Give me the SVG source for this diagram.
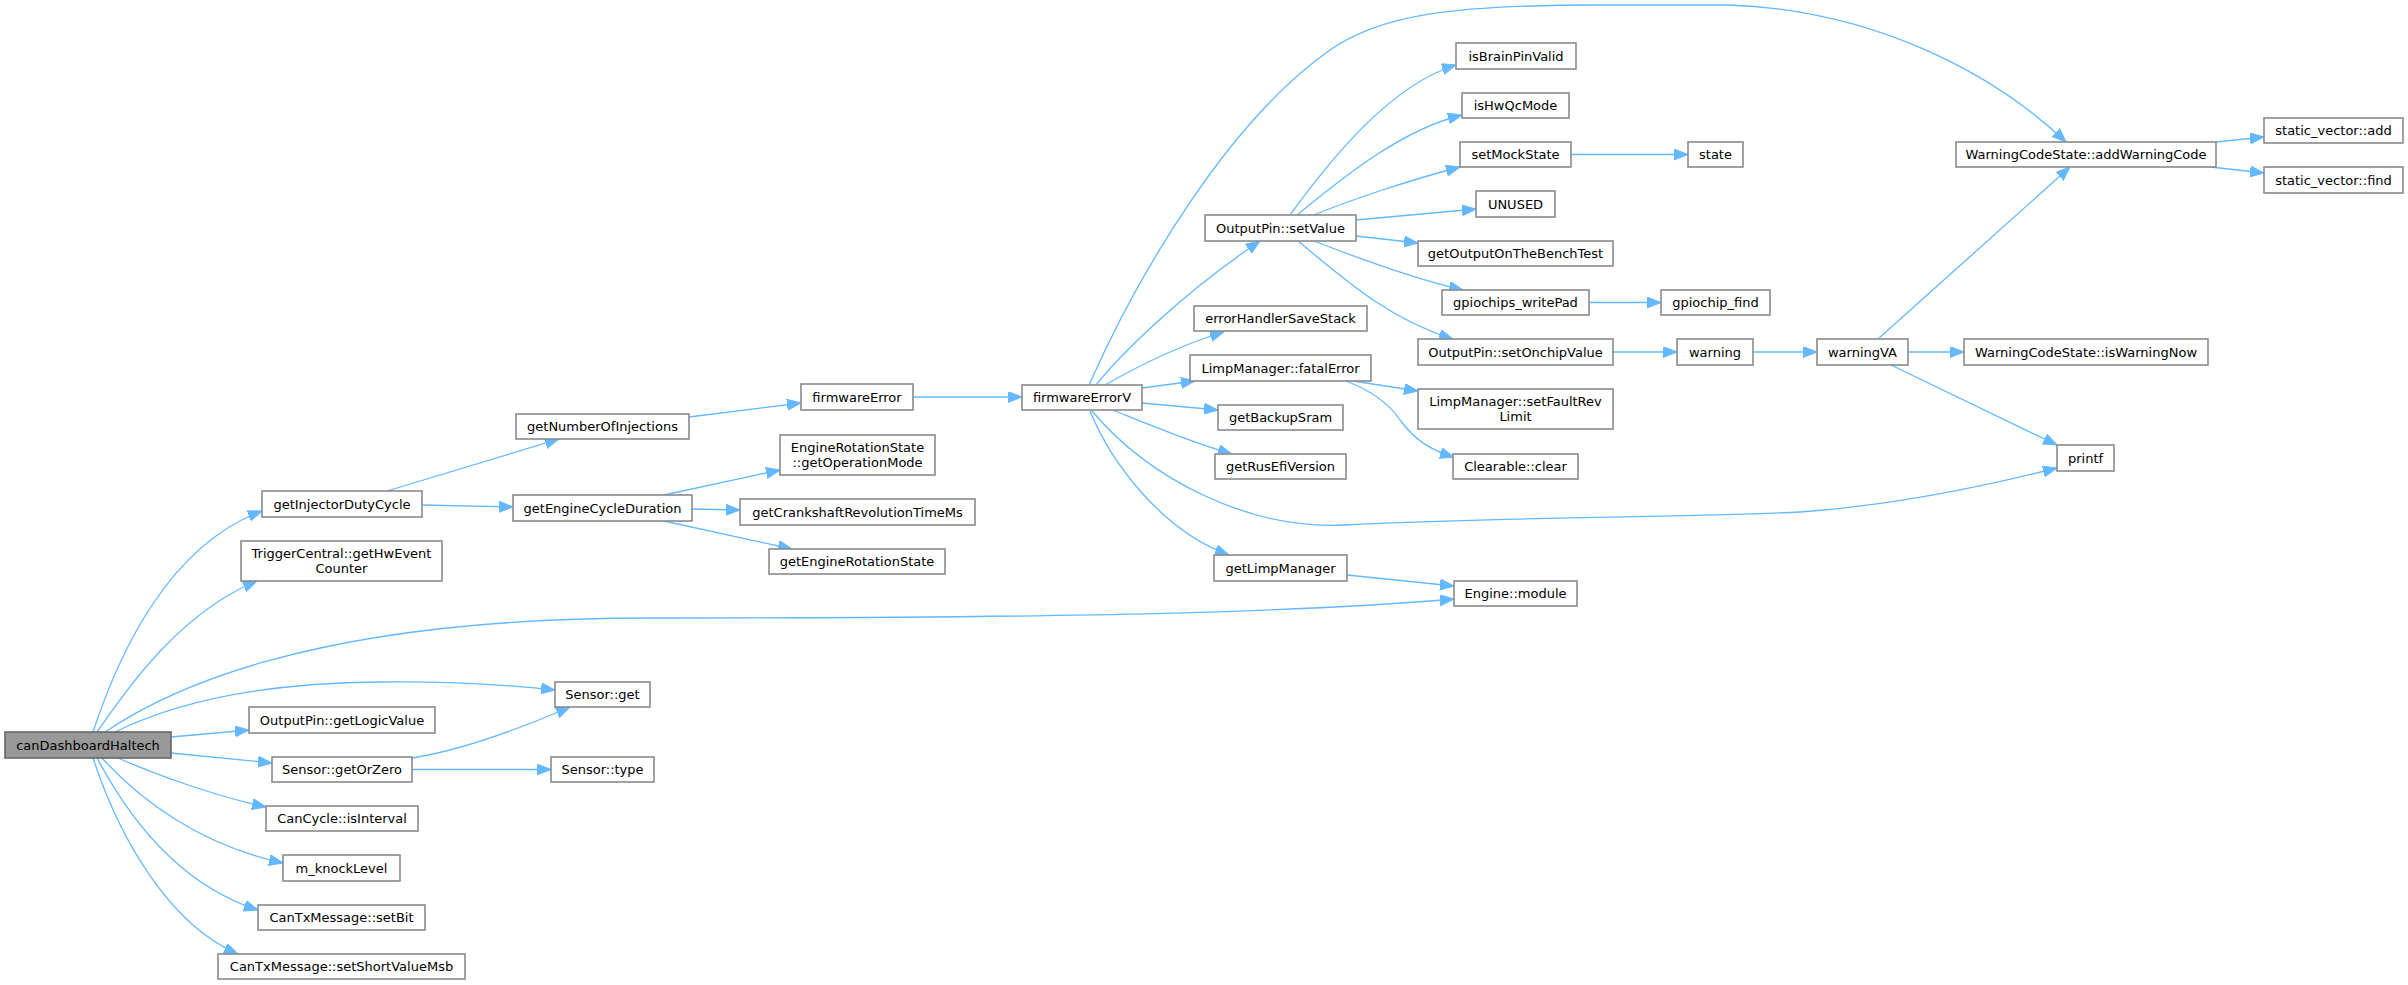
<svg xmlns="http://www.w3.org/2000/svg" width="2408" height="985" viewBox="0 0 2408 985">
<defs>
<style>
.n rect{fill:#ffffff;stroke:#8a8a8a;stroke-width:1.6}
.root rect{fill:#999999;stroke:#666666;stroke-width:1.6}
text{font-family:"DejaVu Sans","Liberation Sans",sans-serif;font-size:13px;fill:#000000;text-anchor:middle}
#edges path{fill:none;stroke:#63b8ff;stroke-width:1.3;marker-end:url(#arr)}
</style>
<marker id="arr" markerUnits="userSpaceOnUse" markerWidth="16" markerHeight="12" refX="14" refY="5.5" orient="auto">
<path d="M0,0 L14,5.5 L0,11 z" fill="#63b8ff" stroke="#63b8ff" stroke-width="1"/>
</marker>
</defs>
<rect x="0" y="0" width="2408" height="985" fill="#ffffff"/>
<g id="edges">
<path d="M93,732 C120,650 170,545 262,511"/>
<path d="M97,732 C130,685 180,613 257,581"/>
<path d="M105,732 C160,695 300,618 650,618 C1100,618 1300,612 1454,599"/>
<path d="M115,732 C170,705 250,683 380,682 C460,681 510,685 555,690"/>
<path d="M171,737 L249,730"/>
<path d="M171,753 L272,763"/>
<path d="M118,758 C150,772 210,795 266,807"/>
<path d="M102,758 C140,800 200,845 283,863"/>
<path d="M97,758 C130,820 180,885 258,910"/>
<path d="M93,758 C120,840 170,925 238,954"/>
<path d="M412,758 C450,752 505,735 570,707"/>
<path d="M412,769.5 L551,769.5"/>
<path d="M387,491 L559,439"/>
<path d="M422,505 L513,507"/>
<path d="M689,417 L801,403"/>
<path d="M664,495 L780,470"/>
<path d="M692,509 L740,510"/>
<path d="M664,521 L792,549"/>
<path d="M913,397 L1022,397"/>
<path d="M1096,385 C1120,355 1180,295 1260,241"/>
<path d="M1105,385 C1140,365 1180,345 1224,332"/>
<path d="M1142,388 L1195,381"/>
<path d="M1142,403 L1218,410"/>
<path d="M1113,410 C1150,425 1190,442 1232,454"/>
<path d="M1092,411 C1150,480 1250,530 1345,525 C1500,517 1700,517 1800,512 C1900,505 1990,485 2057,468"/>
<path d="M1090,411 C1110,460 1160,530 1229,555"/>
<path d="M1347,575 L1454,586"/>
<path d="M1089,385 C1140,270 1230,120 1330,50 C1380,15 1450,5 1600,5 L1729,5 C1870,10 1990,70 2066,142"/>
<path d="M1290,215 C1330,160 1390,85 1456,65"/>
<path d="M1297,215 C1340,180 1400,130 1462,115"/>
<path d="M1314,215 C1350,200 1410,180 1460,167"/>
<path d="M1356,220 L1476,209"/>
<path d="M1356,236 L1418,243"/>
<path d="M1314,241 C1350,255 1410,278 1463,290"/>
<path d="M1298,241 C1345,280 1390,320 1453,339"/>
<path d="M1571,154.5 L1688,154.5"/>
<path d="M1589,302.5 L1661,302.5"/>
<path d="M1613,352 L1677,352"/>
<path d="M1753,352 L1817,352"/>
<path d="M1878,339 L2070,167"/>
<path d="M1908,352 L1964,352"/>
<path d="M1891,365 L2057,445"/>
<path d="M2216,142 L2264,137"/>
<path d="M2211,167 L2264,173"/>
<path d="M1353,381 L1418,391"/>
<path d="M1346,381 C1375,392 1390,405 1400,420 C1415,440 1430,450 1454,457"/>
</g>
<g id="n_canDashboardHaltech" class="root"><rect x="5" y="732" width="166" height="26"/><text x="88" y="749.5">canDashboardHaltech</text></g>
<g id="n_getInjectorDutyCycle" class="n"><rect x="262" y="491" width="160" height="26"/><text x="342" y="508.5">getInjectorDutyCycle</text></g>
<g id="n_getHwEventCounter" class="n"><rect x="241" y="541" width="201" height="40"/><text x="341.5" y="557.5">TriggerCentral::getHwEvent</text><text x="341.5" y="572.5">Counter</text></g>
<g id="n_getLogicValue" class="n"><rect x="249" y="707" width="186" height="26"/><text x="342" y="724.5">OutputPin::getLogicValue</text></g>
<g id="n_getOrZero" class="n"><rect x="272" y="757" width="140" height="25"/><text x="342" y="774">Sensor::getOrZero</text></g>
<g id="n_isInterval" class="n"><rect x="266" y="806" width="152" height="25"/><text x="342" y="823">CanCycle::isInterval</text></g>
<g id="n_knockLevel" class="n"><rect x="283" y="855" width="117" height="26"/><text x="341.5" y="872.5">m_knockLevel</text></g>
<g id="n_setBit" class="n"><rect x="258" y="905" width="167" height="25"/><text x="341.5" y="922">CanTxMessage::setBit</text></g>
<g id="n_setShortValueMsb" class="n"><rect x="218" y="954" width="247" height="25"/><text x="341.5" y="971">CanTxMessage::setShortValueMsb</text></g>
<g id="n_getNumberOfInjections" class="n"><rect x="516" y="414" width="173" height="25"/><text x="602.5" y="431">getNumberOfInjections</text></g>
<g id="n_getEngineCycleDuration" class="n"><rect x="513" y="495" width="179" height="26"/><text x="602.5" y="512.5">getEngineCycleDuration</text></g>
<g id="n_SensorGet" class="n"><rect x="555" y="682" width="95" height="25"/><text x="602.5" y="699">Sensor::get</text></g>
<g id="n_SensorType" class="n"><rect x="551" y="757" width="103" height="25"/><text x="602.5" y="774">Sensor::type</text></g>
<g id="n_firmwareError" class="n"><rect x="801" y="384" width="112" height="26"/><text x="857" y="401.5">firmwareError</text></g>
<g id="n_getOperationMode" class="n"><rect x="780" y="435" width="155" height="40"/><text x="857.5" y="451.5">EngineRotationState</text><text x="857.5" y="466.5">::getOperationMode</text></g>
<g id="n_getCrankshaftRevolutionTimeMs" class="n"><rect x="740" y="499" width="235" height="26"/><text x="857.5" y="516.5">getCrankshaftRevolutionTimeMs</text></g>
<g id="n_getEngineRotationState" class="n"><rect x="769" y="549" width="176" height="25"/><text x="857" y="566">getEngineRotationState</text></g>
<g id="n_firmwareErrorV" class="n"><rect x="1022" y="385" width="120" height="25"/><text x="1082" y="402">firmwareErrorV</text></g>
<g id="n_setValue" class="n"><rect x="1205" y="215" width="151" height="26"/><text x="1280.5" y="232.5">OutputPin::setValue</text></g>
<g id="n_errorHandlerSaveStack" class="n"><rect x="1194" y="306" width="173" height="25"/><text x="1280.5" y="323">errorHandlerSaveStack</text></g>
<g id="n_fatalError" class="n"><rect x="1190" y="355" width="181" height="26"/><text x="1280.5" y="372.5">LimpManager::fatalError</text></g>
<g id="n_getBackupSram" class="n"><rect x="1218" y="405" width="125" height="25"/><text x="1280.5" y="422">getBackupSram</text></g>
<g id="n_getRusEfiVersion" class="n"><rect x="1215" y="454" width="131" height="25"/><text x="1280.5" y="471">getRusEfiVersion</text></g>
<g id="n_getLimpManager" class="n"><rect x="1214" y="555" width="133" height="26"/><text x="1280.5" y="572.5">getLimpManager</text></g>
<g id="n_isBrainPinValid" class="n"><rect x="1456" y="43" width="120" height="26"/><text x="1516" y="60.5">isBrainPinValid</text></g>
<g id="n_isHwQcMode" class="n"><rect x="1462" y="93" width="107" height="25"/><text x="1515.5" y="110">isHwQcMode</text></g>
<g id="n_setMockState" class="n"><rect x="1460" y="142" width="111" height="25"/><text x="1515.5" y="159">setMockState</text></g>
<g id="n_UNUSED" class="n"><rect x="1476" y="191" width="79" height="26"/><text x="1515.5" y="208.5">UNUSED</text></g>
<g id="n_getOutputOnTheBenchTest" class="n"><rect x="1418" y="241" width="195" height="25"/><text x="1515.5" y="258">getOutputOnTheBenchTest</text></g>
<g id="n_gpiochips_writePad" class="n"><rect x="1442" y="290" width="147" height="25"/><text x="1515.5" y="307">gpiochips_writePad</text></g>
<g id="n_setOnchipValue" class="n"><rect x="1418" y="339" width="195" height="26"/><text x="1515.5" y="356.5">OutputPin::setOnchipValue</text></g>
<g id="n_setFaultRevLimit" class="n"><rect x="1418" y="389" width="195" height="40"/><text x="1515.5" y="405.5">LimpManager::setFaultRev</text><text x="1515.5" y="420.5">Limit</text></g>
<g id="n_clear" class="n"><rect x="1453" y="454" width="125" height="25"/><text x="1515.5" y="471">Clearable::clear</text></g>
<g id="n_EngineModule" class="n"><rect x="1454" y="581" width="123" height="25"/><text x="1515.5" y="598">Engine::module</text></g>
<g id="n_state" class="n"><rect x="1688" y="142" width="55" height="25"/><text x="1715.5" y="159">state</text></g>
<g id="n_gpiochip_find" class="n"><rect x="1661" y="290" width="109" height="25"/><text x="1715.5" y="307">gpiochip_find</text></g>
<g id="n_warning" class="n"><rect x="1677" y="339" width="76" height="26"/><text x="1715" y="356.5">warning</text></g>
<g id="n_warningVA" class="n"><rect x="1817" y="339" width="91" height="26"/><text x="1862.5" y="356.5">warningVA</text></g>
<g id="n_addWarningCode" class="n"><rect x="1956" y="142" width="260" height="25"/><text x="2086" y="159">WarningCodeState::addWarningCode</text></g>
<g id="n_isWarningNow" class="n"><rect x="1964" y="339" width="244" height="26"/><text x="2086" y="356.5">WarningCodeState::isWarningNow</text></g>
<g id="n_printf" class="n"><rect x="2057" y="445" width="57" height="26"/><text x="2085.5" y="462.5">printf</text></g>
<g id="n_svAdd" class="n"><rect x="2264" y="118" width="139" height="25"/><text x="2333.5" y="135">static_vector::add</text></g>
<g id="n_svFind" class="n"><rect x="2264" y="167" width="139" height="26"/><text x="2333.5" y="184.5">static_vector::find</text></g>
</svg>
